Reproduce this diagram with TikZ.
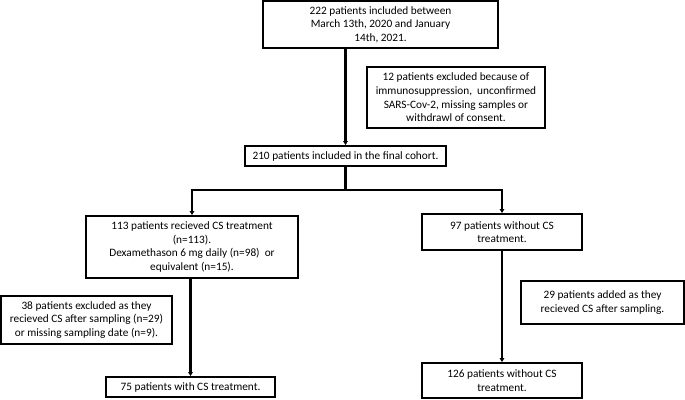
\documentclass[tikz,border=0pt]{standalone}
\usepackage{fontspec}
\setmainfont{Carlito}
\usepackage{tikz}
\usetikzlibrary{arrows.meta}

\begin{document}
\begin{tikzpicture}[x=1pt,y=-1pt,>={Triangle[length=4pt,width=4.5pt]},
  box/.style={draw,line width=1.8pt,align=center,inner sep=0pt,font=\fontsize{11.3}{13.6}\selectfont},
  link/.style={line width=2.8pt},
  arr/.style={link,->}]
  \useasboundingbox (0,0) rectangle (685,399);
  \node[box,minimum width=235,minimum height=47] (start) at (380.5,24.5)
    {222 patients included between\\March 13th, 2020 and January\\14th, 2021.};
  \node[box,minimum width=178,minimum height=61] (excl) at (456,97.5)
    {12 patients excluded because of\\immunosuppression,\ \ unconfirmed\\SARS-Cov-2, missing samples or\\withdrawl of consent.};
  \node[box,minimum width=201,minimum height=20] (cohort) at (345.5,156)
    {210 patients included in the final cohort.};
  \node[box,minimum width=212,minimum height=62] (cs) at (192,247)
    {113 patients recieved CS treatment\\(n=113).\\Dexamethason 6 mg daily (n=98)\ \ or\\equivalent (n=15).};
  \node[box,minimum width=160,minimum height=36] (nocs) at (502,232)
    {97 patients without CS\\treatment.};
  \node[box,minimum width=171,minimum height=48] (csexcl) at (86.5,320)
    {38 patients excluded as they\\recieved CS after sampling (n=29)\\or missing sampling date (n=9).};
  \node[box,minimum width=163,minimum height=43] (added) at (602.5,302.5)
    {29 patients added as they\\recieved CS after sampling.};
  \node[box,minimum width=169,minimum height=20] (csfinal) at (190.5,387)
    {75 patients with CS treatment.};
  \node[box,minimum width=160,minimum height=35] (nocsfinal) at (502,380.5)
    {126 patients without CS\\treatment.};
  \draw[arr] (start.south -| cohort.north) -- (cohort.north);
  \draw[link] (cohort.south) -- ++(0,23) coordinate (split);
  \draw[arr] (split) -| (cs.north);
  \draw[arr] (split) -| (nocs.north);
  \draw[arr] (cs.south -| csfinal.north) -- (csfinal.north);
  \draw[arr] (nocs.south) -- (nocsfinal.north);
\end{tikzpicture}
\end{document}
